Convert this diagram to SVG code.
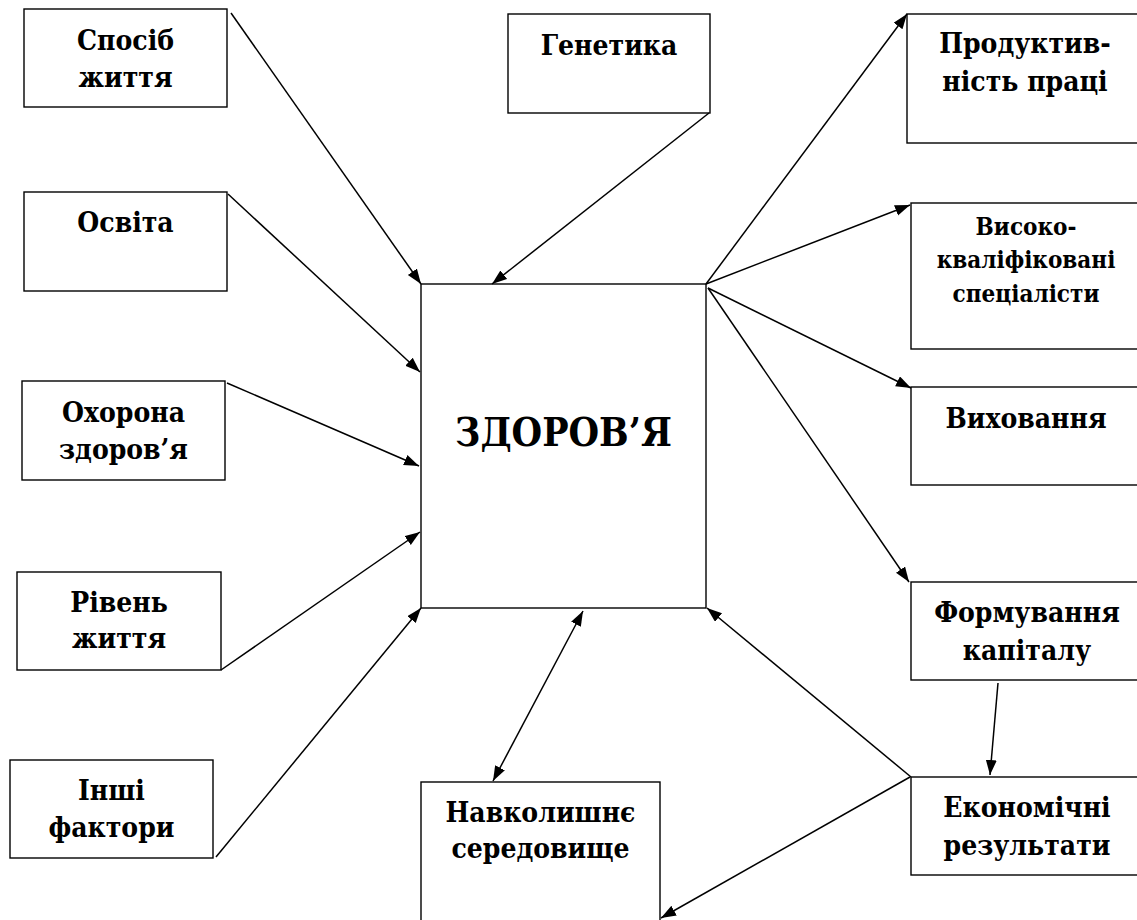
<svg xmlns="http://www.w3.org/2000/svg" width="1137" height="920" viewBox="0 0 1137 920">
<style>
.box{fill:#fff;stroke:#000;stroke-width:1.4}
.t{font-family:"DejaVu Serif Condensed","DejaVu Serif",serif;font-stretch:condensed;font-weight:700;font-size:28px;text-anchor:middle;fill:#000}
.s{font-size:24px}
.big{font-size:39px}
.c line{stroke:#000;stroke-width:1.5;marker-end:url(#ah)}
</style>
<defs>
<marker id="ah" markerUnits="userSpaceOnUse" markerWidth="16" markerHeight="12" refX="15" refY="5.5" orient="auto-start-reverse">
<path d="M0,0 L15,5.5 L0,11 z" fill="#000"/>
</marker>
</defs>
<rect width="1137" height="920" fill="#fff"/>
<g id="n-sposib"><rect class="box" x="24" y="9" width="203" height="98"/><text class="t" x="125.5" y="50">Спосіб</text><text class="t" x="125.5" y="87">життя</text></g>
<g id="n-osvita"><rect class="box" x="24" y="192" width="203" height="99"/><text class="t" x="125.5" y="232">Освіта</text></g>
<g id="n-okhorona"><rect class="box" x="22" y="381" width="203" height="99"/><text class="t" x="123.5" y="422">Охорона</text><text class="t" x="123.5" y="459">здоров’я</text></g>
<g id="n-riven"><rect class="box" x="17" y="572" width="204" height="98"/><text class="t" x="119" y="612">Рівень</text><text class="t" x="119" y="648">життя</text></g>
<g id="n-inshi"><rect class="box" x="10" y="760" width="203" height="98"/><text class="t" x="111.5" y="800">Інші</text><text class="t" x="111.5" y="837">фактори</text></g>
<g id="n-genetyka"><rect class="box" x="508" y="14" width="202" height="99"/><text class="t" x="609" y="55">Генетика</text></g>
<g id="n-zdorovya"><rect class="box" x="421" y="284" width="285" height="324"/><text class="t big" x="563.5" y="446">ЗДОРОВ’Я</text></g>
<g id="n-produktyvnist"><rect class="box" x="907" y="14" width="240" height="129"/><text class="t" x="1025" y="53">Продуктив-</text><text class="t" x="1025" y="91">ність праці</text></g>
<g id="n-vysoko"><rect class="box" x="911" y="203" width="236" height="146"/><text class="t s" x="1026" y="235">Високо-</text><text class="t s" x="1026" y="268">кваліфіковані</text><text class="t s" x="1026" y="302">спеціалісти</text></g>
<g id="n-vykhovannya"><rect class="box" x="911" y="387" width="236" height="98"/><text class="t" x="1026" y="428">Виховання</text></g>
<g id="n-formuvannya"><rect class="box" x="911" y="582" width="236" height="98"/><text class="t" x="1027" y="622">Формування</text><text class="t" x="1027" y="660">капіталу</text></g>
<g id="n-ekonomichni"><rect class="box" x="911" y="777" width="236" height="98"/><text class="t" x="1027" y="817">Економічні</text><text class="t" x="1027" y="855">результати</text></g>
<g id="n-navkolyshnie"><rect class="box" x="421" y="782" width="239" height="150"/><text class="t" x="540.5" y="822">Навколишнє</text><text class="t" x="540.5" y="858">середовище</text></g>
<g id="connectors" class="c">
<line x1="231" y1="13" x2="421" y2="284"/>
<line x1="228" y1="194" x2="420" y2="372"/>
<line x1="227" y1="383" x2="419" y2="466"/>
<line x1="221" y1="670" x2="420" y2="532"/>
<line x1="216" y1="857" x2="421" y2="608"/>
<line x1="709" y1="113" x2="492" y2="284"/>
<line x1="706" y1="284" x2="907" y2="14"/>
<line x1="706" y1="284" x2="910" y2="205"/>
<line x1="708" y1="288" x2="911" y2="388"/>
<line x1="708" y1="288" x2="909" y2="582"/>
<line x1="998" y1="683" x2="990" y2="775"/>
<line x1="911" y1="777" x2="707" y2="608"/>
<line x1="910" y1="777" x2="661" y2="918"/>
<line x1="493" y1="781" x2="583" y2="611" style="marker-start:url(#ah)"/>
</g>
</svg>
